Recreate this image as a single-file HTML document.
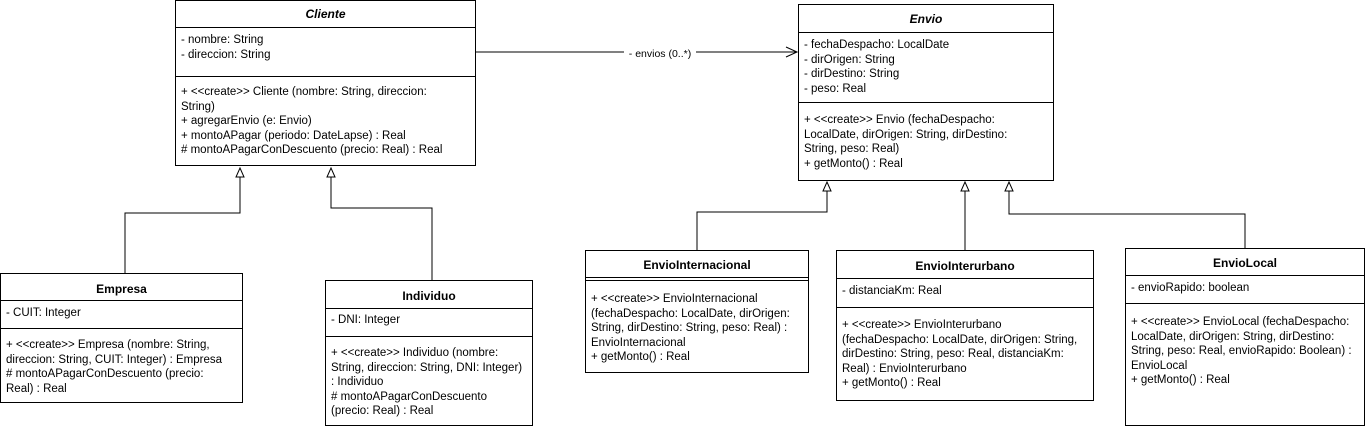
<!DOCTYPE html>
<html><head><meta charset="utf-8"><style>
body{margin:0;width:1368px;height:429px;background:#fff;position:relative;overflow:hidden;font-family:"Liberation Sans",sans-serif;font-size:11.5px;color:#000}
.b{position:absolute;border:1px solid #000;background:#fff;box-sizing:border-box}
.h{position:absolute;left:0;right:0;text-align:center;font-weight:bold;font-size:12px}
.s{position:absolute;left:0;right:0;border-top:1px solid #000}
.t{position:absolute;left:5px;line-height:14.5px;white-space:nowrap}
svg{position:absolute;left:0;top:0}
</style></head><body>
<svg width="1368" height="429">
<g fill="none" stroke="#000" stroke-width="1">
<polyline points="125,273 125,213 240,213 240,177"/>
<polygon points="236,177 244,177 240,168" fill="#fff"/>
<polyline points="432,280 432,208 331,208 331,177"/>
<polygon points="327,177 335,177 331,168" fill="#fff"/>
<polyline points="697,250 697,212 827,212 827,191"/>
<polygon points="823,191 831,191 827,182" fill="#fff"/>
<polyline points="965,250 965,191"/>
<polygon points="961,191 969,191 965,182" fill="#fff"/>
<polyline points="1245,248 1245,214 1009,214 1009,191"/>
<polygon points="1005,191 1013,191 1009,182" fill="#fff"/>
<line x1="475" y1="52" x2="796" y2="52"/>
<polyline points="786,47 797,52 786,57"/>
</g>
<rect x="624" y="46" width="72" height="14" fill="#fff"/>
<text x="660" y="57" font-size="10.5" text-anchor="middle" font-family="Liberation Sans">- envios (0..*)</text>
</svg>

<div class="b" style="left:175px;top:0;width:301px;height:166px">
<div class="h" style="top:6px;font-style:italic">Cliente</div>
<div class="s" style="top:26px"></div>
<div class="t" style="top:32px">- nombre: String<br>- direccion: String</div>
<div class="s" style="top:75px"></div>
<div class="t" style="top:84px">+ &lt;&lt;create&gt;&gt; Cliente (nombre: String, direccion:<br>String)<br>+ agregarEnvio (e: Envio)<br>+ montoAPagar (periodo: DateLapse) : Real<br># montoAPagarConDescuento (precio: Real) : Real</div>
</div>

<div class="b" style="left:798px;top:4px;width:256px;height:177px">
<div class="h" style="top:7px;font-style:italic">Envio</div>
<div class="s" style="top:27px"></div>
<div class="t" style="top:33px">- fechaDespacho: LocalDate<br>- dirOrigen: String<br>- dirDestino: String<br>- peso: Real</div>
<div class="s" style="top:97px"></div>
<div class="t" style="top:108px">+ &lt;&lt;create&gt;&gt; Envio (fechaDespacho:<br>LocalDate, dirOrigen: String, dirDestino:<br>String, peso: Real)<br>+ getMonto() : Real</div>
</div>

<div class="b" style="left:0;top:273px;width:243px;height:130px">
<div class="h" style="top:8px">Empresa</div>
<div class="s" style="top:26px"></div>
<div class="t" style="top:32px">- CUIT: Integer</div>
<div class="s" style="top:54px"></div>
<div class="t" style="top:64px">+ &lt;&lt;create&gt;&gt; Empresa (nombre: String,<br>direccion: String, CUIT: Integer) : Empresa<br># montoAPagarConDescuento (precio:<br>Real) : Real</div>
</div>

<div class="b" style="left:325px;top:280px;width:208px;height:146px">
<div class="h" style="top:8px">Individuo</div>
<div class="s" style="top:27px"></div>
<div class="t" style="top:32px">- DNI: Integer</div>
<div class="s" style="top:55px"></div>
<div class="t" style="top:65px">+ &lt;&lt;create&gt;&gt; Individuo (nombre:<br>String, direccion: String, DNI: Integer)<br>: Individuo<br># montoAPagarConDescuento<br>(precio: Real) : Real</div>
</div>

<div class="b" style="left:585px;top:250px;width:224px;height:123px">
<div class="h" style="top:7px">EnvioInternacional</div>
<div class="s" style="top:26px"></div>
<div class="s" style="top:29px"></div>
<div class="t" style="top:41px">+ &lt;&lt;create&gt;&gt; EnvioInternacional<br>(fechaDespacho: LocalDate, dirOrigen:<br>String, dirDestino: String, peso: Real) :<br>EnvioInternacional<br>+ getMonto() : Real</div>
</div>

<div class="b" style="left:836px;top:250px;width:258px;height:151px">
<div class="h" style="top:8px">EnvioInterurbano</div>
<div class="s" style="top:27px"></div>
<div class="t" style="top:33px">- distanciaKm: Real</div>
<div class="s" style="top:56px"></div>
<div class="t" style="top:67px">+ &lt;&lt;create&gt;&gt; EnvioInterurbano<br>(fechaDespacho: LocalDate, dirOrigen: String,<br>dirDestino: String, peso: Real, distanciaKm:<br>Real) : EnvioInterurbano<br>+ getMonto() : Real</div>
</div>

<div class="b" style="left:1125px;top:248px;width:240px;height:178px">
<div class="h" style="top:7px">EnvioLocal</div>
<div class="s" style="top:26px"></div>
<div class="t" style="top:32px">- envioRapido: boolean</div>
<div class="s" style="top:54px"></div>
<div class="t" style="top:66px">+ &lt;&lt;create&gt;&gt; EnvioLocal (fechaDespacho:<br>LocalDate, dirOrigen: String, dirDestino:<br>String, peso: Real, envioRapido: Boolean) :<br>EnvioLocal<br>+ getMonto() : Real</div>
</div>
</body></html>
